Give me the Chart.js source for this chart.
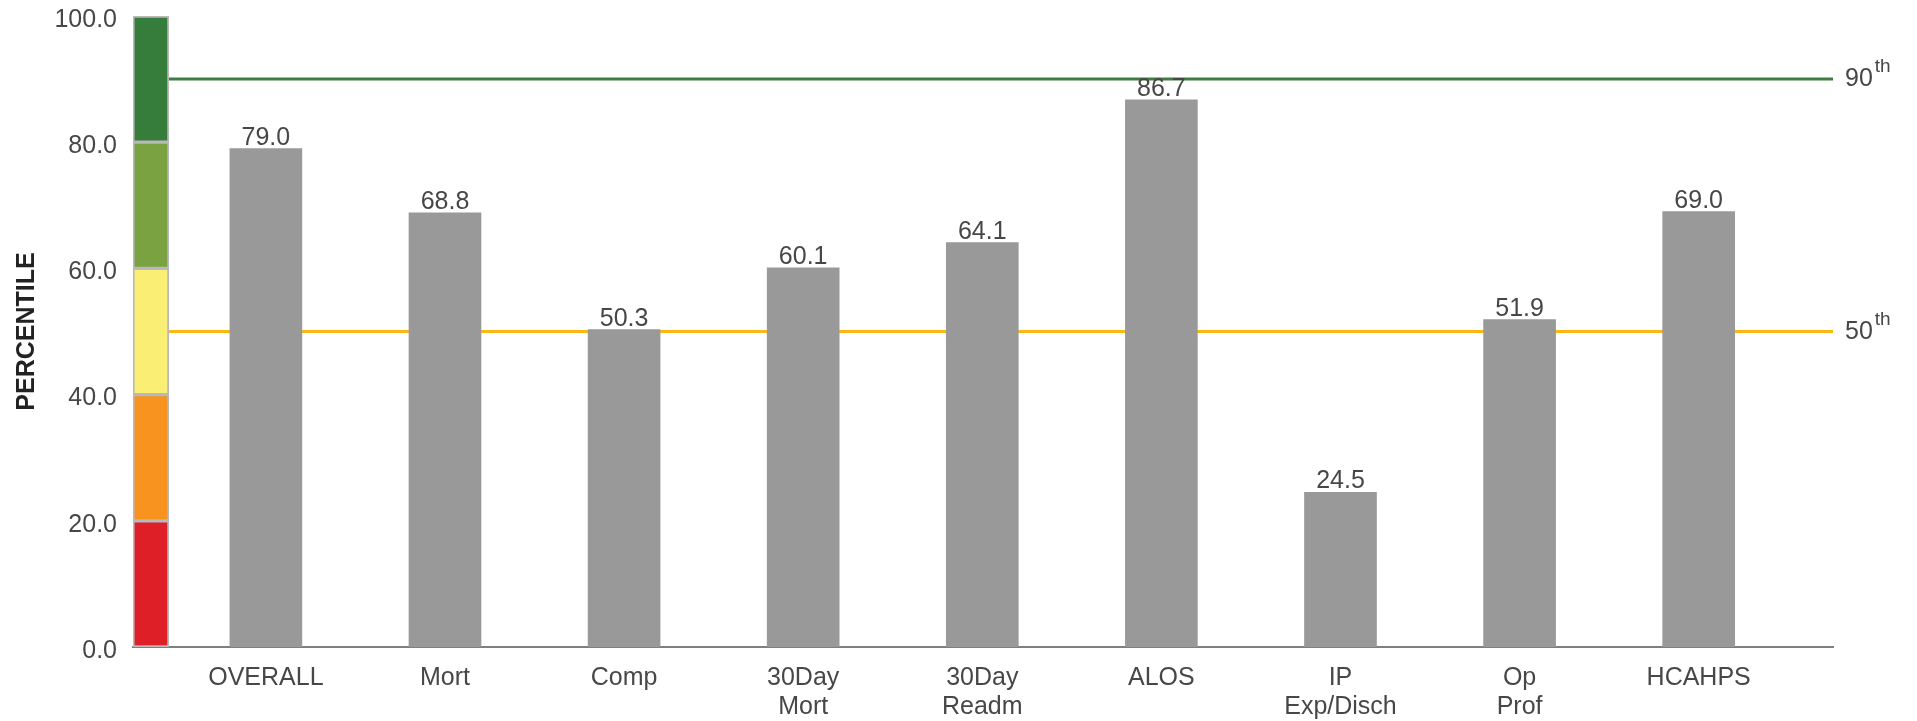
<!DOCTYPE html>
<html>
<head>
<meta charset="utf-8">
<script src="https://cdn.jsdelivr.net/npm/chart.js@4.4.1/dist/chart.umd.min.js"></script>
<style>
  html, body { margin: 0; padding: 0; background: #ffffff; }
  #wrap { width: 1917px; height: 721px; position: relative; }
</style>
</head>
<body>
<div id="wrap"><canvas id="chart"></canvas></div>
<script>
// Measures and their percentile scores
const categories = ['OVERALL', 'Mort', 'Comp', '30Day Mort', '30Day Readm', 'ALOS', 'IP Exp/Disch', 'Op Prof', 'HCAHPS'];
const tickLabels = [['OVERALL'], ['Mort'], ['Comp'], ['30Day', 'Mort'], ['30Day', 'Readm'], ['ALOS'], ['IP', 'Exp/Disch'], ['Op', 'Prof'], ['HCAHPS']];
const percentiles = [79.0, 68.8, 50.3, 60.1, 64.1, 86.7, 24.5, 51.9, 69.0];

// Colour band along the value axis (percentile ranges)
const bandEdges = [0, 20, 40, 60, 80, 100];
const bandColors = ['#df1f27', '#f7931e', '#fbee74', '#7aa240', '#367c3b'];

// Benchmark lines
const benchmarkValues = [90, 50];
const benchmarkLabels = ['90', '50'];
const benchmarkColors = ['#3e7d41', '#fdb714'];

// Value axis ticks
const yMin = 0, yMax = 100, yStep = 20;

// Horizontal placement on the linear x scale
const X_MIN = -0.742, X_MAX = 8.75;
const BAND_X = -0.642, LINE_START = -0.541;

const FONT = "'Liberation Sans', Arial, Helvetica, sans-serif";
const TEXT = '#474747';

const bandData = bandColors.map((c, i) => ({ x: BAND_X, y: [bandEdges[i], bandEdges[i + 1]] }));

const datasets = [
  {
    type: 'bar',
    label: 'Percentile',
    data: percentiles.map((v, i) => ({ x: i, y: v })),
    backgroundColor: '#999999',
    borderWidth: 0,
    barThickness: 72,
    stack: 'all',
    order: 0
  },
  {
    type: 'bar',
    label: 'Range',
    data: bandData,
    backgroundColor: bandColors,
    borderColor: '#b9b9b9',
    borderWidth: 2,
    borderSkipped: false,
    barThickness: 36,
    stack: 'all',
    order: 2
  }
].concat(benchmarkValues.map((v, k) => ({
  type: 'line',
  label: benchmarkLabels[k],
  data: [{ x: LINE_START, y: v }, { x: X_MAX, y: v }],
  borderColor: benchmarkColors[k],
  borderWidth: 3,
  pointRadius: 0,
  fill: false,
  order: 1
})));

// Value labels above the bars and the benchmark captions on the right
const annotations = {
  id: 'annotations',
  afterDatasetsDraw(chart) {
    const ctx = chart.ctx;
    const meta = chart.getDatasetMeta(0);
    ctx.save();
    ctx.fillStyle = TEXT;
    ctx.font = '25px ' + FONT;
    ctx.textAlign = 'center';
    ctx.textBaseline = 'alphabetic';
    meta.data.forEach((bar, i) => {
      ctx.fillText(percentiles[i].toFixed(1), bar.x, bar.y - 4);
    });

    const yScale = chart.scales.y;
    const x0 = chart.chartArea.right + 12;
    ctx.textAlign = 'left';
    benchmarkValues.forEach((v, k) => {
      const py = yScale.getPixelForValue(v) + 7;
      ctx.font = '25px ' + FONT;
      ctx.fillText(benchmarkLabels[k], x0, py);
      const w = ctx.measureText(benchmarkLabels[k]).width;
      ctx.font = '19px ' + FONT;
      ctx.fillText('th', x0 + w + 2, py - 14);
    });
    ctx.restore();
  }
};

new Chart(document.getElementById('chart'), {
  data: { datasets },
  options: {
    responsive: true,
    maintainAspectRatio: false,
    animation: false,
    layout: { autoPadding: false, padding: { top: 16, right: 84, left: 0, bottom: 0 } },
    plugins: { legend: { display: false }, tooltip: { enabled: false } },
    scales: {
      x: {
        type: 'linear',
        min: X_MIN,
        max: X_MAX,
        offset: false,
        stacked: true,
        grid: { display: false, drawTicks: false, offset: false },
        border: { display: true, color: '#7f7f7f', width: 2 },
        afterBuildTicks: (s) => { s.ticks = tickLabels.map((_, i) => ({ value: i })); },
        afterFit: (s) => { s.height = 74; s.paddingLeft = 0; s.paddingRight = 0; },
        ticks: {
          autoSkip: false,
          maxRotation: 0,
          padding: 17,
          color: TEXT,
          font: { family: FONT, size: 25, lineHeight: 1.15 },
          callback: (v) => tickLabels[v]
        }
      },
      y: {
        min: yMin,
        max: yMax,
        stacked: false,
        grid: { display: false, drawTicks: false },
        border: { display: false },
        afterFit: (s) => { s.width = 133; s.paddingTop = 0; s.paddingBottom = 0; },
        ticks: {
          stepSize: yStep,
          padding: 16,
          labelOffset: 4,
          color: TEXT,
          font: { family: FONT, size: 25 },
          callback: (v) => Number(v).toFixed(1)
        },
        title: {
          display: true,
          text: 'PERCENTILE',
          color: '#222222',
          font: { family: FONT, size: 25, weight: 'bold' },
          padding: { top: 12, bottom: 0 }
        }
      }
    }
  },
  plugins: [annotations]
});
</script>
</body>
</html>
